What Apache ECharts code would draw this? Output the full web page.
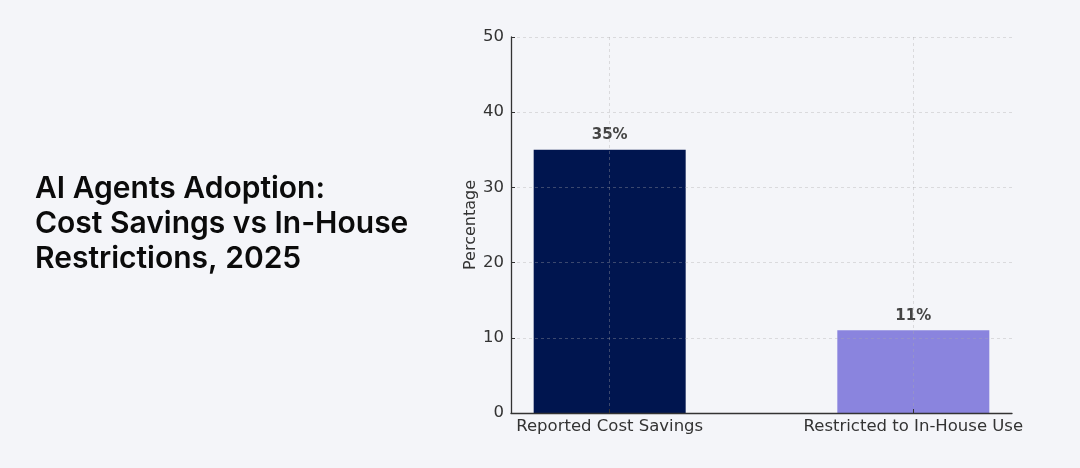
<!DOCTYPE html>
<html>
<head>
<meta charset="utf-8">
<script src="https://cdn.jsdelivr.net/npm/echarts@6/dist/echarts.min.js"></script>
<style>
html,body{margin:0;padding:0;background:#f4f5f9;}
#chart{width:1080px;height:468px;}
</style>
</head>
<body>
<div id="chart"></div>
<script>
const titleLines = ["AI Agents Adoption:", "Cost Savings vs In-House", "Restrictions, 2025"];
const categories = ["Reported Cost Savings", "Restricted to In-House Use"];
const values = [35, 11];
const barColors = ["#00154f", "#8a84de"];
const yTicks = [0, 10, 20, 30, 40, 50];

const chart = echarts.init(document.getElementById('chart'), null, {renderer: 'canvas'});
const fontMpl = 'DejaVu Sans';
chart.setOption({
  backgroundColor: '#f4f5f9',
  animation: false,
  title: {
    text: titleLines.join('\n'),
    left: 30, top: 166,
    textStyle: {fontFamily: 'Inter', fontWeight: 600, fontSize: 30, lineHeight: 35, color: '#0b0b0b'}
  },
  grid: {left: 511, right: 68, top: 37, bottom: 55},
  xAxis: {
    type: 'value', min: -0.325, max: 1.325,
    axisLine: {show: true, onZero: false, lineStyle: {color: '#333', width: 1.3}},
    axisTick: {show: true, inside: true, length: 4, customValues: [0, 1], lineStyle: {color: '#333'}},
    axisLabel: {customValues: [0, 1], formatter: v => categories[Math.round(v)] || '', fontFamily: fontMpl, fontSize: 16.5, color: '#333', margin: 5},
    splitLine: {show: true, lineStyle: {color: 'rgba(170,170,170,0.35)', type: [3, 3], width: 1}}
  },
  yAxis: {
    type: 'value', min: 0, max: 50, interval: 10,
    name: 'Percentage', nameLocation: 'middle', nameGap: 32,
    nameTextStyle: {fontFamily: fontMpl, fontSize: 16, color: '#333'},
    axisLine: {show: true, onZero: false, lineStyle: {color: '#333', width: 1.3}},
    axisTick: {show: true, inside: true, length: 4, lineStyle: {color: '#333'}},
    axisLabel: {fontFamily: fontMpl, fontSize: 16.5, color: '#333', margin: 7, formatter: v => yTicks.includes(v) ? String(v) : ''},
    splitLine: {show: true, lineStyle: {color: 'rgba(170,170,170,0.35)', type: [3, 3], width: 1}}
  },
  series: [{
    type: 'bar',
    z: -1,
    barWidth: 152,
    data: values.map((v, i) => ({value: [i, v], itemStyle: {color: barColors[i]}})),
    label: {show: true, position: 'top', distance: 7, formatter: p => p.value[1] + '%', fontFamily: fontMpl, fontWeight: 'bold', fontSize: 15, color: '#444'}
  }]
});
</script>
</body>
</html>
